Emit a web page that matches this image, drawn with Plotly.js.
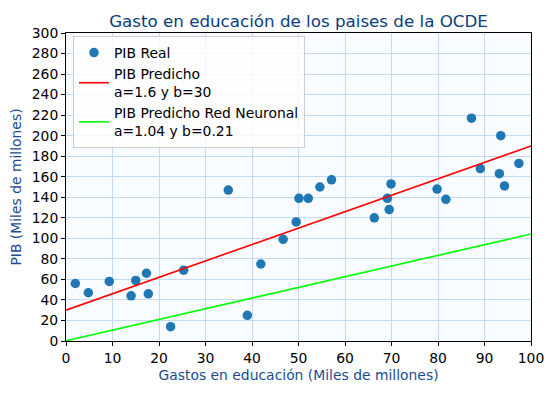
<!DOCTYPE html>
<html>
<head>
<meta charset="utf-8">
<script src="https://cdn.plot.ly/plotly-3.0.1.min.js"></script>
<style>html,body{margin:0;padding:0;background:#fff;}#chart{width:553px;height:394px;}</style>
</head>
<body>
<div id="chart"></div>
<script>
// Gasto en educación (x) y PIB real (y), miles de millones
const gastoEducacion = [2.0, 4.8, 9.3, 14.0, 15.0, 17.3, 17.7, 22.5, 25.3, 34.9, 39.0, 41.9, 46.7, 49.5, 50.1, 52.1, 54.6, 57.1, 66.3, 69.1, 69.9, 69.5, 79.8, 81.7, 87.2, 89.1, 93.5, 93.2, 94.3, 97.4];
const pibReal = [56, 47, 58, 44, 59, 66, 46, 14, 69, 147, 25, 75, 99, 116, 139, 139, 150, 157, 120, 139, 153, 128, 148, 138, 217, 168, 200, 163, 151, 173];
const lineX = [0, 100];
const modeloLineal = {a: 1.6, b: 30};
const modeloRed = {a: 1.04, b: 0.21};
const xTicks = [0, 10, 20, 30, 40, 50, 60, 70, 80, 90, 100];
const yTicks = [0, 20, 40, 60, 80, 100, 120, 140, 160, 180, 200, 220, 240, 260, 280, 300];

const predLineal = lineX.map(x => modeloLineal.a * x + modeloLineal.b);
const predRed = lineX.map(x => modeloRed.a * x + modeloRed.b);

const font = "DejaVu Sans, sans-serif";
const traces = [
  {x: gastoEducacion, y: pibReal, type: 'scatter', mode: 'markers', name: 'PIB Real',
   marker: {color: '#1f77b4', size: 9.5}, cliponaxis: false},
  {x: lineX, y: predLineal, type: 'scatter', mode: 'lines', name: 'PIB Predicho<br>a=1.6 y b=30',
   line: {color: '#ff0000', width: 1.6}},
  {x: lineX, y: predRed, type: 'scatter', mode: 'lines', name: 'PIB Predicho Red Neuronal<br>a=1.04 y b=0.21',
   line: {color: '#00ff00', width: 1.6}}
];
const axisCommon = {
  showline: true, mirror: true, linecolor: '#000', linewidth: 1,
  ticks: 'outside', ticklen: 4, tickcolor: '#000', tickwidth: 1,
  gridcolor: '#c2daf4', gridwidth: 1, zeroline: false,
  tickfont: {family: font, size: 13.9, color: '#000'}
};
const layout = {
  width: 553, height: 394,
  margin: {l: 66, r: 22, t: 33, b: 53},
  paper_bgcolor: '#fff', plot_bgcolor: '#f8fbff',
  font: {family: font},
  title: {text: 'Gasto en educación de los paises de la OCDE', font: {family: font, size: 16.7, color: '#0b3c7c'},
          x: 0.5, xref: 'paper', y: 1, yref: 'paper', yanchor: 'bottom', pad: {b: 6}},
  xaxis: Object.assign({}, axisCommon, {range: [0, 100], tickvals: xTicks,
    title: {text: 'Gastos en educación (Miles de millones)', font: {family: font, size: 13.9, color: '#1a4d8f'}, standoff: 5}}),
  yaxis: Object.assign({}, axisCommon, {range: [0, 300], tickvals: yTicks,
    title: {text: 'PIB (Miles de millones)', font: {family: font, size: 13.9, color: '#1a4d8f'}, standoff: 6}}),
  legend: {x: 0.015, y: 0.99, xanchor: 'left', yanchor: 'top',
    bgcolor: 'rgba(255,255,255,0.8)', bordercolor: '#cccccc', borderwidth: 1,
    font: {family: font, size: 13.9, color: '#000'}, itemwidth: 30, tracegroupgap: 0},
  showlegend: true
};
Plotly.newPlot('chart', traces, layout, {displayModeBar: false, staticPlot: true});
</script>
</body>
</html>
